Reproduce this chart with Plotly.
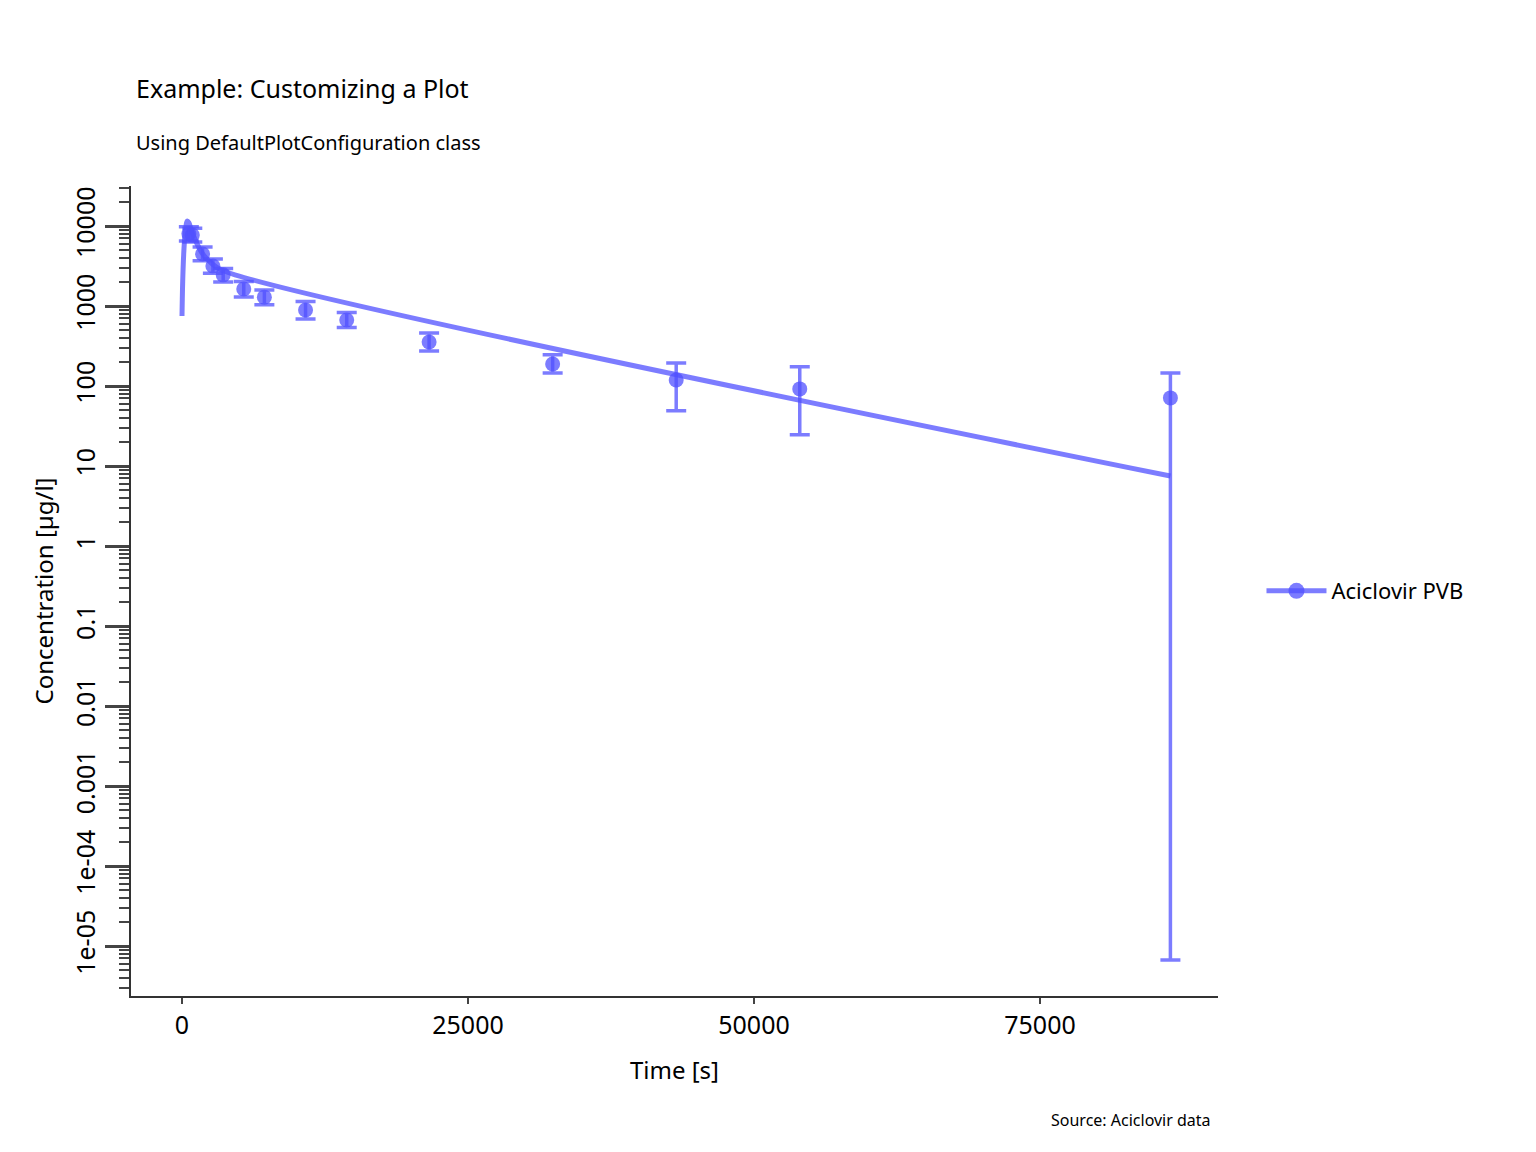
import plotly.graph_objects as go

# observed data (time s, concentration ug/l)
obs_time = [600, 900, 1800, 2700, 3600, 5400, 7200, 10800, 14400, 21600, 32400, 43200, 54000, 86400]
obs_conc = [8000, 7700, 4470, 3160, 2450, 1630, 1290, 890, 668, 355, 188, 119, 92, 71]
err_upper = [1800, 1700, 1000, 700, 500, 400, 300, 250, 160, 105, 57, 75, 82, 74]
err_lower = [1500, 1400, 800, 600, 450, 330, 250, 200, 130, 81, 43, 70, 67.5, 70.9999933]

# simulated curve
sim_time = [0, 60, 150, 250, 350, 450, 600, 800, 1200, 1800, 2500, 3500, 86400]
sim_conc = [750, 2000, 4500, 7500, 10000, 11500, 11000, 9000, 6500, 4500, 3500, 2800, 7.5]

minor_vals = [m * 10.0 ** e for e in range(-6, 5) for m in range(2, 10)]

color = "rgba(80,80,255,0.75)"
fig = go.Figure()
fig.add_trace(go.Scatter(x=sim_time, y=sim_conc, mode="lines", line_shape="spline",
                         line=dict(color=color, width=5), showlegend=False))
fig.add_trace(go.Scatter(x=obs_time, y=obs_conc, mode="markers",
                         marker=dict(color=color, size=15),
                         error_y=dict(type="data", symmetric=False, array=err_upper,
                                      arrayminus=err_lower, color=color, thickness=3.5, width=10),
                         showlegend=False))
fig.add_trace(go.Scatter(x=[None], y=[None], mode="lines+markers", name="Aciclovir PVB",
                         line=dict(color=color, width=5), marker=dict(color=color, size=16)))

fig.update_layout(
    width=1536, height=1152,
    font=dict(family="Noto Sans", color="black", size=20),
    plot_bgcolor="white", paper_bgcolor="white",
    margin=dict(l=123, r=326, t=178, b=164),
    legend=dict(x=1.04, y=0.5, yanchor="middle", font=dict(size=22), itemwidth=60),
    xaxis=dict(title=dict(text="Time [s]", standoff=22), range=[-4458, 90560],
               tickvals=[0, 25000, 50000, 75000], ticktext=["0", "25000", "50000", "75000"],
               showgrid=False, zeroline=False, showline=True, linecolor="#333", linewidth=2,
               ticks="outside", ticklen=6, tickwidth=2, tickfont=dict(size=25)),
    yaxis=dict(title=dict(text="Concentration [µg/l]", standoff=8), type="log", range=[-5.625, 4.5],
               tickvals=[1e-5, 1e-4, 1e-3, 1e-2, 0.1, 1, 10, 100, 1000, 10000],
               ticktext=["1e-05", "1e-04", "0.001", "0.01", "0.1", "1", "10", "100", "1000", "10000"],
               tickangle=-90, tickfont=dict(size=25),
               showgrid=False, zeroline=False, showline=True, linecolor="#333", linewidth=2,
               ticks="outside", ticklen=24, tickwidth=3,
               minor=dict(ticks="outside", ticklen=10, tickwidth=2, showgrid=False,
                          tickmode="array", tickvals=minor_vals)),
    annotations=[
        dict(text="Example: Customizing a Plot", xref="paper", yref="paper", x=0.0025, y=1 + 98 / 810,
             xanchor="left", yanchor="middle", showarrow=False, font=dict(size=25)),
        dict(text="Using DefaultPlotConfiguration class", xref="paper", yref="paper", x=0.003, y=1 + 44 / 810,
             xanchor="left", yanchor="middle", showarrow=False, font=dict(size=20)),
        dict(text="Source: Aciclovir data", xref="paper", yref="paper",
             x=1.0 - 5 / 1087, y=-124 / 810, xanchor="right", yanchor="middle",
             showarrow=False, font=dict(size=16)),
    ],
)
fig.write_html("out.html")
